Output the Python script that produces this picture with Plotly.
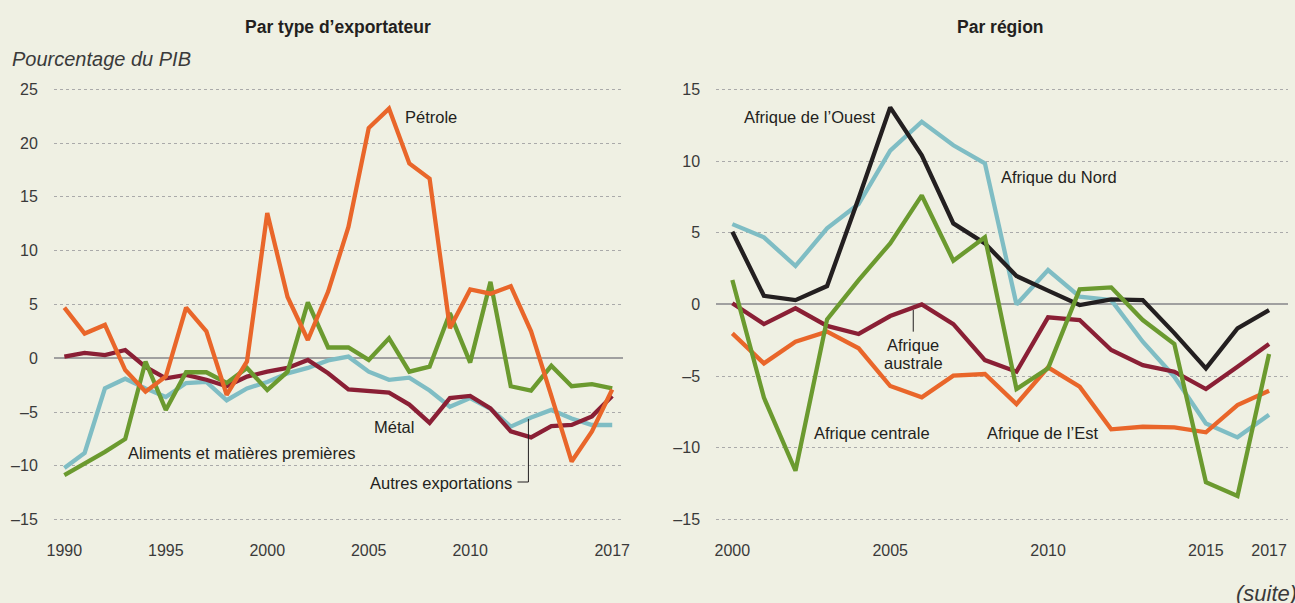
import plotly.graph_objects as go

# ---------------- Data ----------------
years_left = list(range(1990, 2018))
petrole = [4.7, 2.3, 3.1, -1.1, -3.1, -1.7, 4.7, 2.5, -3.4, -0.3, 13.5, 5.7, 1.7, 6.2, 12.2,
           21.4, 23.2, 18.1, 16.7, 2.8, 6.4, 6.0, 6.7, 2.5, -3.5, -9.6, -6.8, -2.9]
aliments = [-10.85, -9.8, -8.7, -7.5, -0.3, -4.8, -1.3, -1.3, -2.3, -0.9, -2.95, -1.25, 5.2, 1.0, 1.0,
            -0.15, 1.86, -1.25, -0.78, 4.2, -0.4, 7.1, -2.6, -3.0, -0.7, -2.6, -2.4, -2.8]
metal = [0.15, 0.5, 0.3, 0.77, -0.8, -1.86, -1.55, -2.0, -2.6, -1.7, -1.25, -0.9, -0.15, -1.4, -2.9,
         -3.1, -3.2, -4.3, -6.0, -3.7, -3.5, -4.65, -6.8, -7.35, -6.3, -6.2, -5.4, -3.5]
autres = [-10.2, -8.8, -2.8, -1.9, -2.8, -3.6, -2.3, -2.2, -3.9, -2.8, -2.2, -1.4, -0.9, -0.2, 0.15,
          -1.25, -2.0, -1.8, -3.0, -4.5, -3.7, -4.7, -6.35, -5.5, -4.8, -5.6, -6.2, -6.2]

years_right = list(range(2000, 2018))
ouest = [5.07, 0.6, 0.3, 1.28, 7.4, 13.74, 10.4, 5.65, 4.26, 1.98, 0.96, -0.04, 0.35, 0.3, -2.0, -4.46, -1.67, -0.39]
nord = [5.6, 4.68, 2.68, 5.3, 7.0, 10.72, 12.74, 11.1, 9.84, 0.0, 2.4, 0.54, 0.3, -2.6, -5.04, -8.3, -9.27, -7.7]
centrale = [1.7, -6.5, -11.6, -1.04, 1.7, 4.26, 7.6, 3.05, 4.68, -5.9, -4.46, 1.05, 1.19, -1.09, -2.76, -12.4, -13.36, -3.46]
australe = [0.08, -1.37, -0.27, -1.5, -2.06, -0.81, 0.0, -1.37, -3.88, -4.69, -0.9, -1.09, -3.18, -4.23, -4.69, -5.9, -4.34, -2.76]
est = [-2.02, -4.11, -2.6, -1.9, -3.06, -5.69, -6.48, -4.97, -4.85, -6.95, -4.39, -5.74, -8.71, -8.53, -8.57, -8.92, -7.02, -6.02]

left_xticks = [1990, 1995, 2000, 2005, 2010, 2017]
right_xticks = [2000, 2005, 2010, 2015, 2017]
left_yticks = [25, 20, 15, 10, 5, 0, -5, -10, -15]
right_yticks = [15, 10, 5, 0, -5, -10, -15]

def fmt(v):
    return ("\u2013" + str(abs(v))) if v < 0 else str(v)

# ---------------- Styles ----------------
BG = "#EFF0E3"
ORANGE = "#E9662A"
GREEN = "#6B9A2F"
MAROON = "#8A1F35"
TEAL = "#7FBDC4"
BLACK = "#231F20"
TXT = "#231F20"
TICK_FONT = dict(family="Liberation Sans, Arial, sans-serif", size=16, color="#3A3A3A")
LBL_FONT = dict(family="Liberation Sans, Arial, sans-serif", size=16.5, color=TXT)
LW = 4.3

fig = go.Figure()

def add(x, y, color, xa, ya):
    fig.add_trace(go.Scatter(x=x, y=y, mode="lines", line=dict(color=color, width=LW),
                             xaxis=xa, yaxis=ya, showlegend=False, hoverinfo="skip"))

add(years_left, autres, TEAL, "x", "y")
add(years_left, metal, MAROON, "x", "y")
add(years_left, aliments, GREEN, "x", "y")
add(years_left, petrole, ORANGE, "x", "y")

add(years_right, nord, TEAL, "x2", "y2")
add(years_right, est, ORANGE, "x2", "y2")
add(years_right, australe, MAROON, "x2", "y2")
add(years_right, ouest, BLACK, "x2", "y2")
add(years_right, centrale, GREEN, "x2", "y2")

W, H = 1295, 603
ML, MR, MT, MB = 54, 0, 80, 73
PW = W - ML - MR
PH = H - MT - MB

def px(xpix):
    return (xpix - ML) / PW

def py(ypix):
    return (H - MB - ypix) / PH

grid = dict(showgrid=True, gridcolor="#AAAAAA", gridwidth=1.3, griddash="3px,3px",
            zeroline=True, zerolinecolor="#A0A0A0", zerolinewidth=1.5)

fig.update_layout(
    width=W, height=H,
    margin=dict(l=ML, r=MR, t=MT, b=MB, pad=0),
    paper_bgcolor=BG, plot_bgcolor=BG,
    showlegend=False,
    xaxis=dict(domain=[0, px(626)], range=[1989.49, 2017.52], tickvals=left_xticks,
               ticktext=[str(v) for v in left_xticks], showgrid=False, zeroline=False,
               showline=False, ticks="outside", ticklen=6, tickcolor="rgba(0,0,0,0)",
               tickfont=TICK_FONT),
    yaxis=dict(range=[-15.96, 25.86], tickvals=left_yticks, ticktext=[fmt(v) for v in left_yticks],
               ticks="outside", ticklen=12, tickcolor="rgba(0,0,0,0)", tickfont=TICK_FONT,
               showline=False, **grid),
    xaxis2=dict(domain=[px(720), 1], range=[1999.49, 2017.6], tickvals=right_xticks,
                ticktext=[str(v) for v in right_xticks], showgrid=False, zeroline=False,
                showline=False, ticks="outside", ticklen=6, tickcolor="rgba(0,0,0,0)",
                tickfont=TICK_FONT, anchor="y2"),
    yaxis2=dict(range=[-15.73, 15.65], tickvals=right_yticks, ticktext=[fmt(v) for v in right_yticks],
                ticks="outside", ticklen=12, tickcolor="rgba(0,0,0,0)", tickfont=TICK_FONT,
                showline=False, anchor="x2", **grid),
)

ann = []
# Titles
ann.append(dict(text="<b>Par type d\u2019exportateur</b>", x=px(340), y=py(27), xref="paper", yref="paper",
                xanchor="center", yanchor="middle", showarrow=False,
                font=dict(family="Liberation Sans, Arial", size=17.5, color=TXT)))
ann.append(dict(text="<b>Par r\u00e9gion</b>", x=px(1006), y=py(27), xref="paper", yref="paper",
                xanchor="center", yanchor="middle", showarrow=False,
                font=dict(family="Liberation Sans, Arial", size=17.5, color=TXT)))
ann.append(dict(text="<i>Pourcentage du PIB</i>", x=px(10), y=py(59), xref="paper", yref="paper",
                xanchor="left", yanchor="middle", showarrow=False,
                font=dict(family="Liberation Sans, Arial", size=20, color="#3A3A3A")))
ann.append(dict(text="<i>(suite)</i>", x=px(1241), y=py(593), xref="paper", yref="paper",
                xanchor="left", yanchor="middle", showarrow=False,
                font=dict(family="Liberation Sans, Arial", size=22, color="#3A3A3A")))

def lab(text, x, y, xa, ya, anchor="left"):
    ann.append(dict(text=text, x=x, y=y, xref=xa, yref=ya, xanchor=anchor, yanchor="middle",
                    showarrow=False, font=LBL_FONT))

# Left labels
lab("P\u00e9trole", 2006.69, 22.44, "x", "y")
lab("M\u00e9tal", 2005.17, -6.36, "x", "y")
lab("Aliments et mati\u00e8res premi\u00e8res", 1993.02, -8.8, "x", "y")
lab("Autres exportations", 2012.14, -11.56, "x", "y", anchor="right")
# Right labels
lab("Afrique de l\u2019Ouest", 2000.31, 13.07, "x2", "y2")
lab("Afrique du Nord", 2008.44, 8.9, "x2", "y2")
lab("Afrique", 2005.73, -2.83, "x2", "y2", anchor="center")
lab("australe", 2005.73, -4.07, "x2", "y2", anchor="center")
lab("Afrique centrale", 2002.51, -8.99, "x2", "y2")
lab("Afrique de l\u2019Est", 2007.99, -8.97, "x2", "y2")

fig.update_layout(annotations=ann)

# Leader lines
lead = dict(color=TXT, width=1)
fig.add_shape(type="line", xref="x", yref="y", x0=2012.33, y0=-11.5, x1=2012.87, y1=-11.5, line=lead)
fig.add_shape(type="line", xref="x", yref="y", x0=2012.87, y0=-11.5, x1=2012.87, y1=-5.64, line=lead)
fig.add_shape(type="line", xref="x2", yref="y2", x0=2005.73, y0=-0.39, x1=2005.73, y1=-1.9, line=lead)

fig.write_html("out.html", config={"displayModeBar": False},
               post_script="document.body.style.margin='0';document.body.style.overflow='hidden';"
                           "document.body.style.background='" + BG + "';")
